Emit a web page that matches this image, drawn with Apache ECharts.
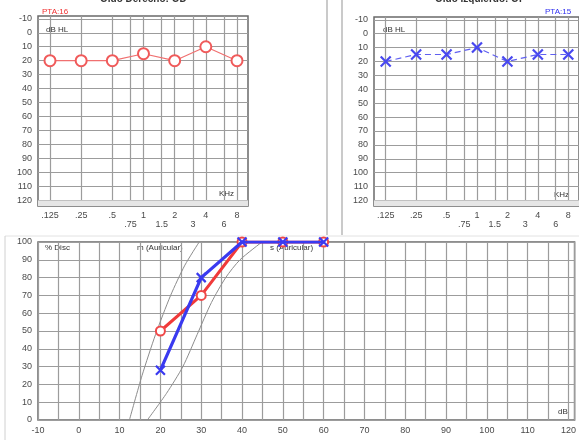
<!DOCTYPE html>
<html><head><meta charset="utf-8">
<script src="https://cdn.jsdelivr.net/npm/echarts@6/dist/echarts.min.js"></script>
<style>html,body{margin:0;padding:0;background:#fff}#c{width:579px;height:440px}</style>
</head><body><div id="c"></div>
<script>
// ---- data ----
const freqs = [0.125, 0.25, 0.5, 1, 2, 4, 8];
const freqLabels = ['.125', '.25', '.5', '1', '2', '4', '8'];
const midFreqs = [0.75, 1.5, 3, 6];
const midFreqLabels = ['.75', '1.5', '3', '6'];
const dbTicks = [-10, 0, 10, 20, 30, 40, 50, 60, 70, 80, 90, 100, 110, 120];
const rightEarAC = [20, 20, 20, 15, 20, 10, 20];
const leftEarAC = [20, 15, 15, 10, 20, 15, 15];
const ptaRight = 'PTA:16';
const ptaLeft = 'PTA:15';
const speechDb = [20, 30, 40, 50, 60];
const speechRight = [50, 70, 100, 100, 100];
const speechLeft = [28, 80, 100, 100, 100];
const normMdb = [12.4, 15.5, 18.8, 22.5, 26, 29.5];
const normMpct = [0, 25, 48, 70, 87, 100];
const normSdb = [16.8, 21.5, 25.5, 29, 32.5, 36, 39.5, 44.9];
const normSpct = [0, 15, 30, 48, 66, 80, 90, 100];

// ---- helpers ----
const oct = f => Math.log2(f / 0.125);
const allFreqs = freqs.concat(midFreqs);
function lab(v, fs, ls) {
  for (let i = 0; i < fs.length; i++) if (Math.abs(oct(fs[i]) - v) < 1e-6) return ls[i];
  return '';
}
const font = 'Liberation Sans, Arial, sans-serif';
const labCol = '#4a4a4a';
const gridCol = '#9c9c9c';
const oMin = -0.385, oMax = 6.353;

function audioX(g) {
  return [
    { type: 'value', gridIndex: g, min: oMin, max: oMax, position: 'bottom',
      axisLine: { show: false }, axisTick: { show: false, customValues: allFreqs.map(oct) },
      axisLabel: { customValues: freqs.map(oct), formatter: v => lab(v, freqs, freqLabels), margin: 5, fontSize: 9, color: labCol, fontFamily: font },
      splitLine: { show: true, lineStyle: { color: gridCol, width: 1.2 } } },
    { type: 'value', gridIndex: g, min: oMin, max: oMax, position: 'bottom', offset: 9,
      axisLine: { show: false }, axisTick: { show: false, customValues: midFreqs.map(oct) },
      axisLabel: { customValues: midFreqs.map(oct), formatter: v => lab(v, midFreqs, midFreqLabels), margin: 5, fontSize: 9, color: labCol, fontFamily: font },
      splitLine: { show: false } }
  ];
}
function audioY(g) {
  return { type: 'value', gridIndex: g, inverse: true, min: -12, max: 124,
    axisLine: { show: false }, axisTick: { show: false, customValues: dbTicks },
    axisLabel: { customValues: dbTicks, margin: 6, fontSize: 9, color: labCol, fontFamily: font },
    splitLine: { show: true, lineStyle: { color: gridCol, width: 1.2 } } };
}
const band = { silent: true, itemStyle: { color: '#e6e6e6' }, data: [[{ yAxis: 120 }, { yAxis: 124 }]] };
const xPath = 'path://M0,0L10,10M10,0L0,10';

const chart = echarts.init(document.getElementById('c'), null, { renderer: 'canvas' });
chart.setOption({
  animation: false,
  backgroundColor: '#fff',
  grid: [
    { left: 38, top: 16, width: 210, height: 190, show: true, borderColor: '#6a6a6a', borderWidth: 1.5, backgroundColor: 'transparent' },
    { left: 374, top: 17, width: 210, height: 189, show: true, borderColor: '#6a6a6a', borderWidth: 1.5, backgroundColor: 'transparent' },
    { left: 38, top: 242, width: 539, height: 178, show: true, borderColor: '#6a6a6a', borderWidth: 1.5, backgroundColor: 'transparent' }
  ],
  xAxis: audioX(0).concat(audioX(1)).concat([
    { type: 'value', gridIndex: 2, min: -10, max: 121.5, interval: 5,
      axisLine: { show: false }, axisTick: { show: false },
      axisLabel: { formatter: v => (v % 10 === 0 && v <= 120 ? String(v) : ''), margin: 6, fontSize: 9, color: labCol, fontFamily: font, showMaxLabel: true },
      splitLine: { show: true, lineStyle: { color: gridCol, width: 1.2 } } }
  ]),
  yAxis: [audioY(0), audioY(1),
    { type: 'value', gridIndex: 2, min: 0, max: 100, interval: 10,
      axisLine: { show: false }, axisTick: { show: false },
      axisLabel: { margin: 6, fontSize: 9, color: labCol, fontFamily: font },
      splitLine: { show: true, lineStyle: { color: gridCol, width: 1.2 } } }
  ],
  series: [
    { type: 'line', xAxisIndex: 0, yAxisIndex: 0, data: freqs.map((f, i) => [oct(f), rightEarAC[i]]),
      symbol: 'circle', symbolSize: 11, itemStyle: { color: '#fff', borderColor: '#f05a5a', borderWidth: 2 },
      lineStyle: { color: '#f07070', width: 1.2 }, markArea: band, z: 5 },
    { type: 'line', xAxisIndex: 2, yAxisIndex: 1, data: freqs.map((f, i) => [oct(f), leftEarAC[i]]),
      symbol: xPath, symbolSize: 10, itemStyle: { color: 'none', borderColor: '#4848f0', borderWidth: 2.2 },
      lineStyle: { color: '#6060f0', width: 1.2, type: [6, 4] }, markArea: band, z: 5 },
    { type: 'line', xAxisIndex: 4, yAxisIndex: 2, data: normMdb.map((d, i) => [d, normMpct[i]]),
      smooth: 0.25, symbol: 'none', lineStyle: { color: '#8c8c8c', width: 1 } },
    { type: 'line', xAxisIndex: 4, yAxisIndex: 2, data: normSdb.map((d, i) => [d, normSpct[i]]),
      smooth: 0.25, symbol: 'none', lineStyle: { color: '#8c8c8c', width: 1 } },
    { type: 'line', xAxisIndex: 4, yAxisIndex: 2, data: speechDb.map((d, i) => [d, speechRight[i]]),
      symbol: 'circle', symbolSize: 9, itemStyle: { color: '#fff', borderColor: '#f04848', borderWidth: 2 },
      lineStyle: { color: '#f03a3a', width: 3 }, z: 6 },
    { type: 'line', xAxisIndex: 4, yAxisIndex: 2, data: speechDb.map((d, i) => [d, speechLeft[i]]),
      symbol: xPath, symbolSize: 9, itemStyle: { color: 'none', borderColor: '#3a3af0', borderWidth: 2.2 },
      lineStyle: { color: '#3a3af0', width: 3.2 }, z: 7 }
  ],
  graphic: [
    { type: 'line', shape: { x1: 327, y1: 0, x2: 327, y2: 235 }, style: { stroke: '#b8b8b8', lineWidth: 1.5 } },
    { type: 'line', shape: { x1: 342, y1: 0, x2: 342, y2: 235 }, style: { stroke: '#b8b8b8', lineWidth: 1.5 } },
    { type: 'line', shape: { x1: 5, y1: 236, x2: 579, y2: 236 }, style: { stroke: '#e2e2e2', lineWidth: 1 } },
    { type: 'line', shape: { x1: 5, y1: 236, x2: 5, y2: 440 }, style: { stroke: '#d0d0d0', lineWidth: 1 } },
    { type: 'text', left: 100, top: -6, style: { text: 'Oído Derecho: OD', font: 'bold 10px ' + font, fill: '#333' } },
    { type: 'text', left: 435, top: -6, style: { text: 'Oído Izquierdo: OI', font: 'bold 10px ' + font, fill: '#333' } },
    { type: 'text', left: 42, top: 8, style: { text: ptaRight, font: '8px ' + font, fill: '#f03030' } },
    { type: 'text', left: 545, top: 8, style: { text: ptaLeft, font: '8px ' + font, fill: '#3030f0' } },
    { type: 'text', left: 46, top: 26, style: { text: 'dB HL', font: '8px ' + font, fill: '#333' } },
    { type: 'text', left: 383, top: 26, style: { text: 'dB HL', font: '8px ' + font, fill: '#333' } },
    { type: 'text', left: 219, top: 190, style: { text: 'KHz', font: '8px ' + font, fill: '#333' } },
    { type: 'text', left: 554, top: 191, style: { text: 'KHz', font: '8px ' + font, fill: '#333' } },
    { type: 'text', left: 45, top: 244, style: { text: '% Disc', font: '8px ' + font, fill: '#333' } },
    { type: 'text', left: 137, top: 244, style: { text: 'm (Auricular)', font: '8px ' + font, fill: '#333' } },
    { type: 'text', left: 270, top: 244, style: { text: 's (Auricular)', font: '8px ' + font, fill: '#333' } },
    { type: 'text', left: 558, top: 408, style: { text: 'dB', font: '8px ' + font, fill: '#333' } }
  ]
});
</script></body></html>
